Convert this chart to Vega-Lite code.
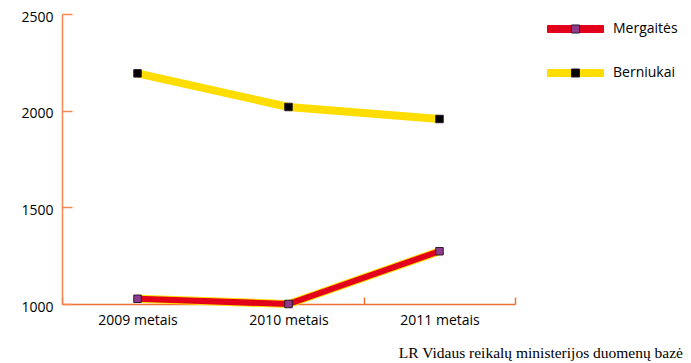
{
  "$schema": "https://vega.github.io/schema/vega-lite/v6.json",
  "width": 453,
  "height": 290,
  "autosize": {"type": "none"},
  "padding": {"left": 62, "top": 14, "right": 176, "bottom": 59},
  "background": "white",
  "config": {"view": {"stroke": null}, "font": "Open Sans"},
  "title": {
    "text": "LR Vidaus reikalų ministerijos duomenų bazė",
    "orient": "bottom",
    "anchor": "end",
    "frame": "group",
    "align": "right",
    "dx": 168,
    "offset": 19,
    "font": "Liberation Serif",
    "fontSize": 15.5,
    "fontWeight": "normal",
    "color": "#000000"
  },
  "data": {
    "values": [
      {"year": "2009 metais", "series": "Mergaitės", "value": 1027},
      {"year": "2010 metais", "series": "Mergaitės", "value": 1000},
      {"year": "2011 metais", "series": "Mergaitės", "value": 1273},
      {"year": "2009 metais", "series": "Berniukai", "value": 2193},
      {"year": "2010 metais", "series": "Berniukai", "value": 2019},
      {"year": "2011 metais", "series": "Berniukai", "value": 1957}
    ]
  },
  "encoding": {
    "x": {
      "field": "year",
      "type": "ordinal",
      "sort": null,
      "scale": {"type": "band", "paddingInner": 0, "paddingOuter": 0},
      "axis": {
        "title": null,
        "grid": false,
        "tickBand": "extent",
        "tickSize": -7,
        "tickWidth": 1.5,
        "tickColor": "#F07032",
        "domainColor": "#F07032",
        "domainWidth": 1.5,
        "labelPadding": 16,
        "labelAngle": 0,
        "labelFont": "Open Sans",
        "labelFontSize": 14,
        "labelColor": "#000000"
      }
    },
    "y": {
      "field": "value",
      "type": "quantitative",
      "scale": {"domain": [1000, 2500], "nice": false, "zero": false},
      "axis": {
        "title": null,
        "grid": false,
        "values": [1000, 1500, 2000, 2500],
        "format": "d",
        "tickSize": -10,
        "tickWidth": 1.5,
        "tickColor": "#F4874F",
        "domainColor": "#F4874F",
        "domainWidth": 1.5,
        "labelPadding": 19,
        "labelFlush": false,
        "labelOffset": 3,
        "labelFont": "Open Sans",
        "labelFontSize": 14,
        "labelColor": "#000000"
      }
    }
  },
  "layer": [
    {
      "mark": {"type": "line", "color": "#FFDD00", "strokeWidth": 8},
      "encoding": {"detail": {"field": "series", "type": "nominal"}}
    },
    {
      "mark": {"type": "line", "strokeWidth": 6},
      "encoding": {
        "stroke": {
          "field": "series",
          "type": "nominal",
          "scale": {"domain": ["Mergaitės", "Berniukai"], "range": ["#E2001A", "#FFDD00"]},
          "legend": {
            "orient": "none",
            "legendX": 485,
            "legendY": 7,
            "title": null,
            "padding": 0,
            "symbolType": "M-1,-0.125H1V0.125H-1Z",
            "symbolSize": 3136,
            "clipHeight": 16,
            "rowPadding": 28,
            "labelOffset": 9,
            "labelFont": "Open Sans",
            "labelFontSize": 14,
            "labelColor": "#000000",
            "labelBaseline": "middle",
            "encode": {
              "symbols": {
                "update": {
                  "fill": {"scale": "stroke", "field": "value"},
                  "stroke": {"value": "#FFDD00"},
                  "strokeWidth": {"value": 1}
                }
              }
            }
          }
        }
      }
    },
    {
      "mark": {"type": "point", "shape": "square", "filled": true, "size": 56, "stroke": "#2A1A2A", "strokeWidth": 1, "opacity": 1},
      "encoding": {
        "fill": {
          "field": "series",
          "type": "nominal",
          "sort": "descending",
          "scale": {"range": ["#8E3A8E", "#000000"]},
          "legend": {
            "orient": "none",
            "legendX": 485,
            "legendY": 7,
            "title": null,
            "padding": 0,
            "symbolType": "M-0.143,-0.143H0.143V0.143H-0.143Z",
            "symbolSize": 3136,
            "symbolStrokeColor": "#2A1A2A",
            "symbolStrokeWidth": 1,
            "symbolOpacity": 1,
            "clipHeight": 16,
            "rowPadding": 28,
            "labelOffset": 9,
            "labelFont": "Open Sans",
            "labelFontSize": 14,
            "labelOpacity": 0,
            "labelBaseline": "middle"
          }
        }
      }
    }
  ]
}
